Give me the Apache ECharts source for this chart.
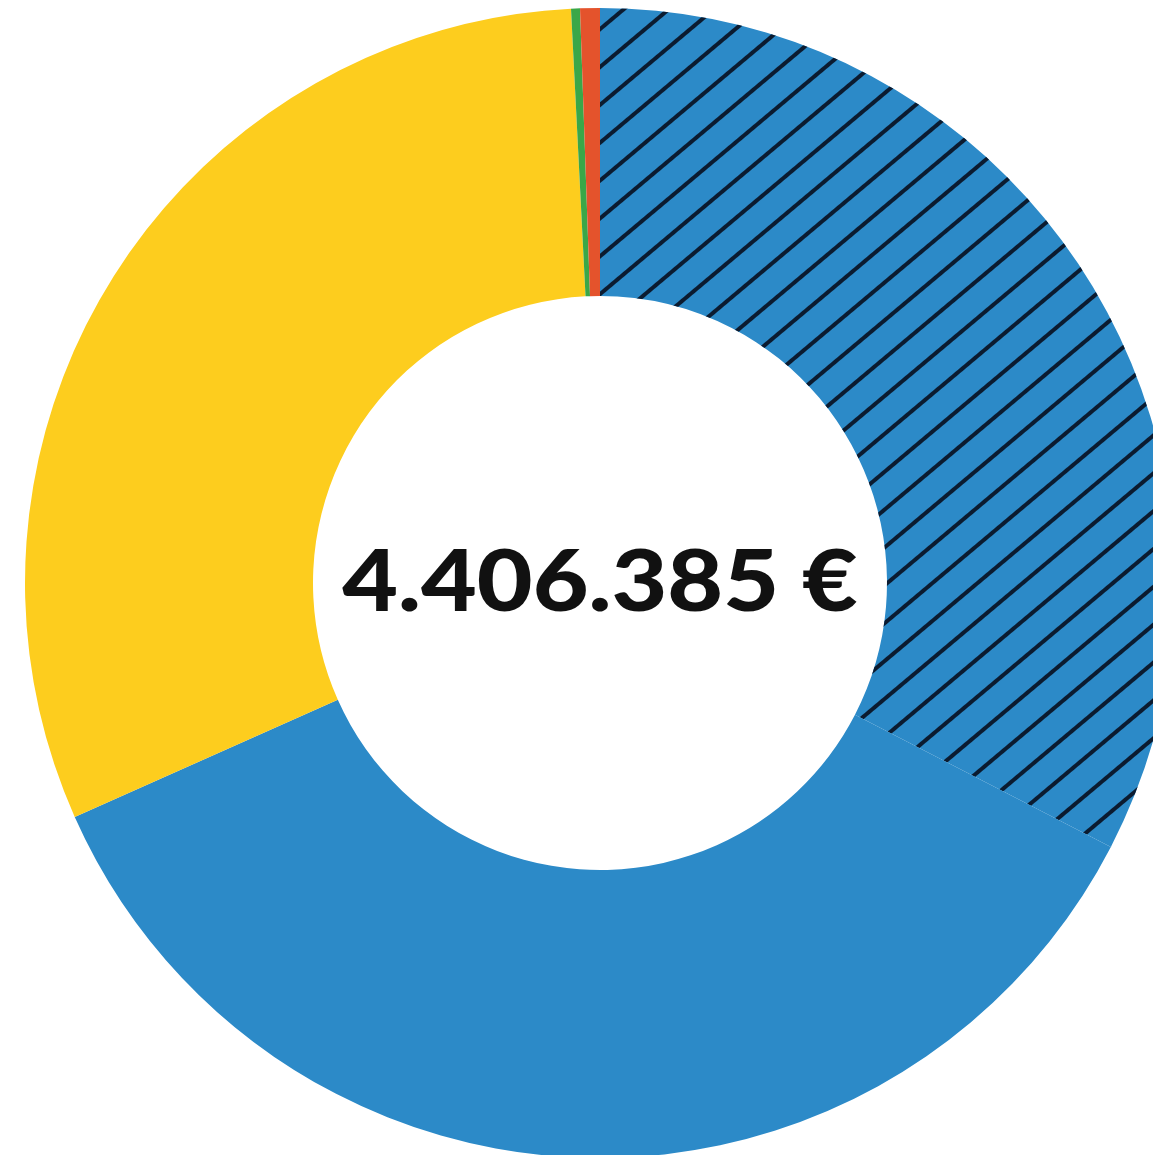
<!DOCTYPE html>
<html>
<head>
<meta charset="utf-8">
<script src="https://cdn.jsdelivr.net/npm/echarts@6/dist/echarts.min.js"></script>
<style>
html,body{margin:0;padding:0;background:#fff;}
#chart{width:1153px;height:1155px;}
</style>
</head>
<body>
<div id="chart"></div>
<script>
const categories = ['Blau (schraffiert)', 'Blau', 'Gelb', 'Grün', 'Rot'];
const values = [1436000, 1575000, 1360000, 11000, 24385];
const colors = ['#2c8ac8', '#2c8ac8', '#fdcd1e', '#3aa748', '#e4532c'];
const totalLabel = '4.406.385 €';

const chart = echarts.init(document.getElementById('chart'));
const data = categories.map((c, i) => {
  const item = { name: c, value: values[i], itemStyle: { color: colors[i] } };
  if (i === 0) {
    item.itemStyle.decal = {
      symbol: 'rect',
      symbolSize: 1,
      dashArrayX: [1, 0],
      dashArrayY: [4, 25],
      rotation: -40 * Math.PI / 180,
      color: '#0b1b30'
    };
  }
  return item;
});
chart.setOption({
  animation: false,
  series: [{
    type: 'pie',
    center: [600, 583],
    radius: [287, 575],
    startAngle: 90,
    clockwise: true,
    label: { show: false },
    labelLine: { show: false },
    emphasis: { disabled: true },
    data: data
  }],
  graphic: [{
    type: 'text',
    x: 600,
    y: 583,
    scaleX: 1.12,
    style: {
      text: totalLabel,
      fontFamily: 'Lato',
      fontWeight: 900,
      fontSize: 86,
      fill: '#111111',
      textAlign: 'center',
      textVerticalAlign: 'middle'
    }
  }]
});
</script>
</body>
</html>
